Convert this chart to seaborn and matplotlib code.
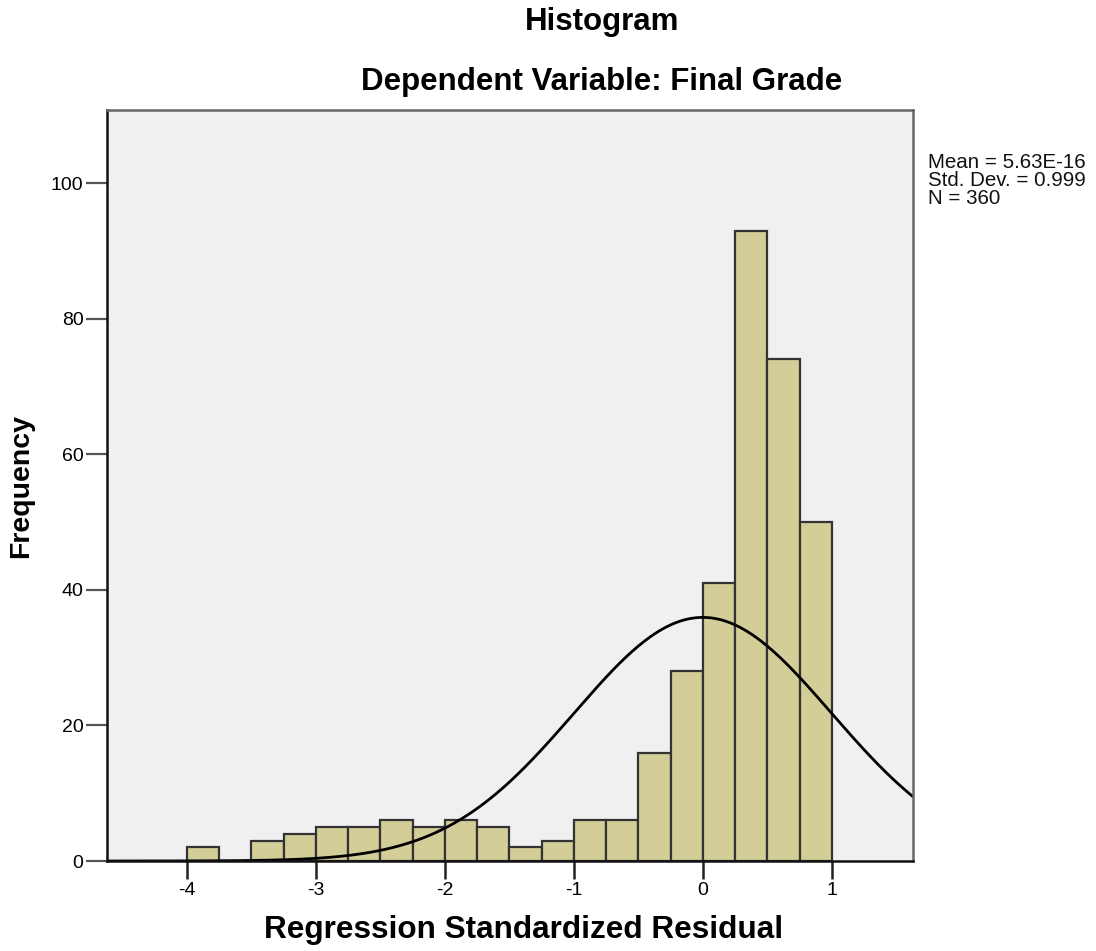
import numpy as np
import pandas as pd
import matplotlib
matplotlib.use("Agg")
import matplotlib.pyplot as plt
import seaborn as sns

# Histogram bins of the standardized residuals (width 0.25)
bin_left = [-4.0, -3.75, -3.5, -3.25, -3.0, -2.75, -2.5, -2.25, -2.0, -1.75,
            -1.5, -1.25, -1.0, -0.75, -0.5, -0.25, 0.0, 0.25, 0.5, 0.75]
counts = [2, 0, 3, 4, 5, 5, 6, 5, 6, 5,
          2, 3, 6, 6, 16, 28, 41, 93, 74, 50]
bin_width = 0.25

mean_val = 5.63e-16
std_val = 0.999
n_val = 360

x_ticks = [-4, -3, -2, -1, 0, 1]
y_ticks = [0, 20, 40, 60, 80, 100]

sns.set_theme(style="white")
plt.rcParams["font.family"] = ["Liberation Sans", "DejaVu Sans"]
plt.rcParams["text.color"] = "black"
plt.rcParams["axes.labelcolor"] = "black"
plt.rcParams["xtick.color"] = "black"
plt.rcParams["ytick.color"] = "black"

fig = plt.figure(figsize=(10.96, 9.51), dpi=100)
ax = fig.add_axes([107 / 1096, 1 - 861 / 951, (913 - 107) / 1096, (861 - 110) / 951])
ax.set_facecolor("#F0F0F0")

df = pd.DataFrame({"center": np.array(bin_left) + bin_width / 2, "count": counts})
edges = [float(b) for b in bin_left] + [bin_left[-1] + bin_width]
sns.histplot(data=df, x="center", weights="count", bins=edges, ax=ax,
             color="#D3CE97", edgecolor="#333333", linewidth=1.6, alpha=1.0)

# Fitted normal curve scaled to counts
xlim = (-4.62, 1.63)
xs = np.linspace(xlim[0], xlim[1], 400)
ys = n_val * bin_width / (std_val * np.sqrt(2 * np.pi)) * np.exp(-0.5 * ((xs - mean_val) / std_val) ** 2)
sns.lineplot(x=xs, y=ys, ax=ax, color="black", linewidth=2.0)

ax.set_xlim(*xlim)
ax.set_ylim(0, 110.8)
ax.set_xticks(x_ticks)
ax.set_xticklabels([str(t) for t in x_ticks])
ax.set_yticks(y_ticks)
ax.set_yticklabels([str(t) for t in y_ticks])
ax.tick_params(axis="x", direction="out", length=13, width=1.8, color="#222222",
               labelsize=14, labelcolor="black", pad=2, bottom=True)
ax.tick_params(axis="y", direction="out", length=15, width=1.6, color="#555555",
               labelsize=14, labelcolor="black", pad=2, left=True)

for side in ["left", "bottom"]:
    ax.spines[side].set_color("#111111")
    ax.spines[side].set_linewidth(1.8)
for side in ["top", "right"]:
    ax.spines[side].set_color("#666666")
    ax.spines[side].set_linewidth(1.8)

ax.set_xlabel("Regression Standardized Residual", fontsize=22.7, fontweight="bold",
              color="black", va="center")
ax.xaxis.set_label_coords(0.517, -0.092)
ax.set_ylabel("Frequency", fontsize=20.5, fontweight="bold", labelpad=12, color="black")

fig.text(602 / 1096, 1 - 22 / 951, "Histogram",
         ha="center", va="center", fontsize=22.5, fontweight="bold", color="black")
fig.text(602 / 1096, 1 - 82 / 951, "Dependent Variable: Final Grade",
         ha="center", va="center", fontsize=22.5, fontweight="bold", color="black")

stats_lines = ["Mean = 5.63E-16",
               f"Std. Dev. = {std_val:.3f}",
               f"N = {n_val}"]
for i, line in enumerate(stats_lines):
    fig.text(928 / 1096, 1 - (162 + 18.3 * i) / 951, line,
             ha="left", va="center", fontsize=14.8, color="#111111")

fig.savefig("out.png", dpi=100, facecolor="white")
